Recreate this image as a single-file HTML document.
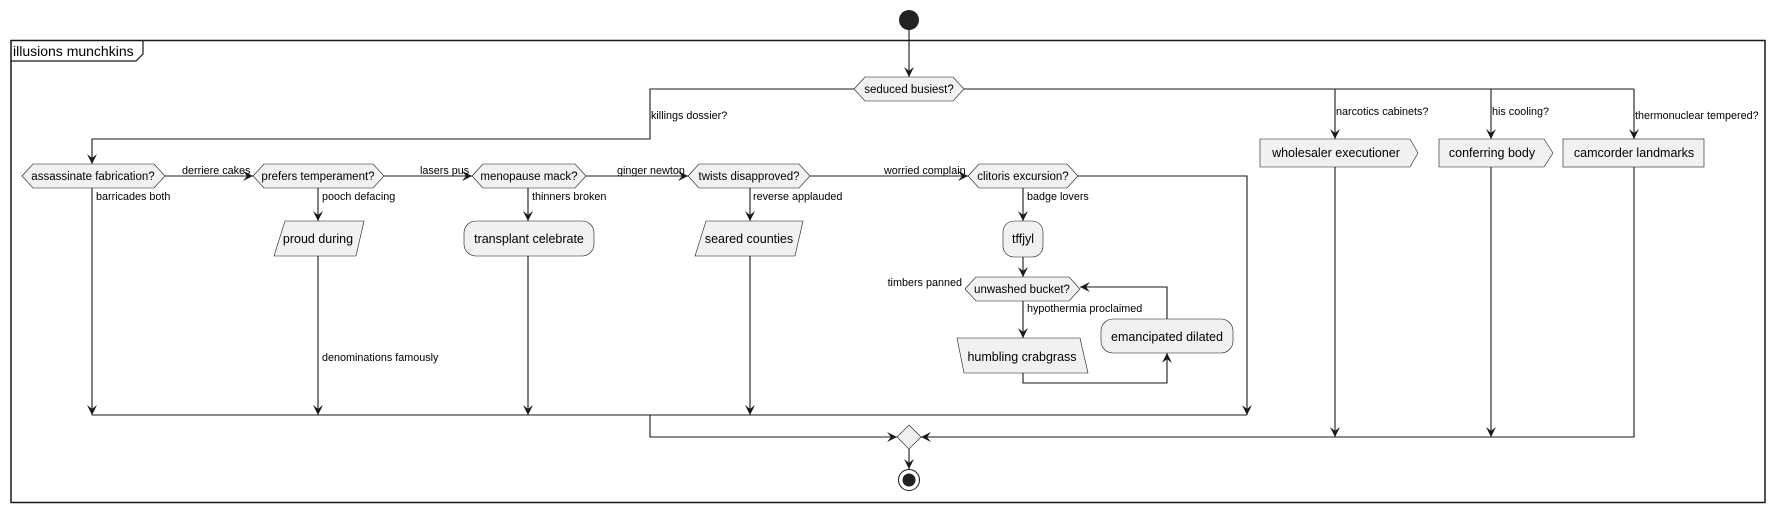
<!DOCTYPE html>
<html><head><meta charset="utf-8"><style>
html,body{margin:0;padding:0;background:#fff;}
svg{display:block;}
text{font-family:"Liberation Sans",sans-serif;font-size:10.8px;fill:#000;}
text.h{font-size:11.5px;}
text.a{font-size:12.5px;}
.s{fill:#F1F1F1;stroke:#181818;stroke-width:0.6;}
.l{fill:none;stroke:#181818;stroke-width:1.1;}
</style></head><body>
<svg width="1776" height="513" viewBox="0 0 1776 513" xmlns="http://www.w3.org/2000/svg">
<defs>
<marker id="a" markerWidth="12" markerHeight="10" refX="10" refY="5" orient="auto" markerUnits="userSpaceOnUse">
<path d="M0,0 L10,5 L0,10 L4,5 z" fill="#181818"/>
</marker>
</defs>
<!-- frame -->
<rect x="11" y="40.5" width="1754" height="462" fill="none" stroke="#181818" stroke-width="1.5"/>
<path d="M11,61 L136,61 L143,54 L143,40.5" fill="none" stroke="#181818" stroke-width="1.2"/>
<text x="13" y="56" style="font-size:14px">illusions munchkins</text>

<!-- start -->
<circle cx="909" cy="20" r="10" fill="#222"/>
<line class="l" x1="909" y1="30" x2="909" y2="77" marker-end="url(#a)"/>

<!-- seduced busiest -->
<path class="s" d="M854,89 L865,77 L953,77 L964,89 L953,101 L865,101 Z"/>
<text class="h" x="909" y="93" text-anchor="middle">seduced busiest?</text>

<!-- branch lines -->
<path class="l" d="M854,89 L650,89 L650,139 L92,139 L92,164" marker-end="url(#a)"/>
<text x="651" y="119">killings dossier?</text>
<path class="l" d="M964,89 L1634,89"/>
<line class="l" x1="1335" y1="89" x2="1335" y2="139" marker-end="url(#a)"/>
<line class="l" x1="1491" y1="89" x2="1491" y2="139" marker-end="url(#a)"/>
<line class="l" x1="1634" y1="89" x2="1634" y2="139" marker-end="url(#a)"/>
<text x="1336" y="115">narcotics cabinets?</text>
<text x="1492" y="115">his cooling?</text>
<text x="1635" y="119">thermonuclear tempered?</text>

<!-- right boxes -->
<path class="s" d="M1260,139 L1410,139 L1418,153 L1410,167 L1260,167 Z"/>
<text class="a" x="1336" y="157" text-anchor="middle">wholesaler executioner</text>
<path class="s" d="M1439,139 L1544,139 L1553,153 L1544,167 L1439,167 Z"/>
<text class="a" x="1492" y="157" text-anchor="middle">conferring body</text>
<rect class="s" x="1563" y="139" width="141" height="28"/>
<text class="a" x="1634" y="157" text-anchor="middle">camcorder landmarks</text>

<!-- row hexagons -->
<path class="s" d="M22,176 L33,164 L154,164 L165,176 L154,188 L33,188 Z"/>
<text class="h" x="93" y="180" text-anchor="middle">assassinate fabrication?</text>
<path class="s" d="M253,176 L264,164 L373,164 L384,176 L373,188 L264,188 Z"/>
<text class="h" x="318" y="180" text-anchor="middle">prefers temperament?</text>
<path class="s" d="M472,176 L483,164 L575,164 L586,176 L575,188 L483,188 Z"/>
<text class="h" x="529" y="180" text-anchor="middle">menopause mack?</text>
<path class="s" d="M688,176 L699,164 L799,164 L810,176 L799,188 L699,188 Z"/>
<text class="h" x="749" y="180" text-anchor="middle">twists disapproved?</text>
<path class="s" d="M968,176 L979,164 L1067,164 L1078,176 L1067,188 L979,188 Z"/>
<text class="h" x="1023" y="180" text-anchor="middle">clitoris excursion?</text>

<line class="l" x1="165" y1="176" x2="253" y2="176" marker-end="url(#a)"/>
<text x="182" y="174">derriere cakes</text>
<line class="l" x1="384" y1="176" x2="472" y2="176" marker-end="url(#a)"/>
<text x="420" y="174">lasers pus</text>
<line class="l" x1="586" y1="176" x2="688" y2="176" marker-end="url(#a)"/>
<text x="617" y="174">ginger newton</text>
<line class="l" x1="810" y1="176" x2="968" y2="176" marker-end="url(#a)"/>
<text x="884" y="174">worried complain</text>

<!-- verticals from hexagons -->
<line class="l" x1="92" y1="188" x2="92" y2="415" marker-end="url(#a)"/>
<text x="96" y="200">barricades both</text>
<line class="l" x1="318" y1="188" x2="318" y2="221" marker-end="url(#a)"/>
<text x="322" y="200">pooch defacing</text>
<line class="l" x1="528" y1="188" x2="528" y2="221" marker-end="url(#a)"/>
<text x="532" y="200">thinners broken</text>
<line class="l" x1="750" y1="188" x2="750" y2="221" marker-end="url(#a)"/>
<text x="753" y="200">reverse applauded</text>
<line class="l" x1="1023" y1="188" x2="1023" y2="221" marker-end="url(#a)"/>
<text x="1027" y="200">badge lovers</text>

<!-- activities -->
<path class="s" d="M285,221 L364,221 L356,256 L274,256 Z"/>
<text class="a" x="318" y="243" text-anchor="middle">proud during</text>
<rect class="s" x="464" y="221" width="130" height="35" rx="12"/>
<text class="a" x="529" y="243" text-anchor="middle">transplant celebrate</text>
<path class="s" d="M706,221 L803,221 L795,256 L695,256 Z"/>
<text class="a" x="749" y="243" text-anchor="middle">seared counties</text>
<rect class="s" x="1003" y="221" width="40" height="36" rx="11"/>
<text class="a" x="1023" y="243" text-anchor="middle">tffjyl</text>

<line class="l" x1="318" y1="256" x2="318" y2="415" marker-end="url(#a)"/>
<text x="322" y="361">denominations famously</text>
<line class="l" x1="528" y1="256" x2="528" y2="415" marker-end="url(#a)"/>
<line class="l" x1="750" y1="256" x2="750" y2="415" marker-end="url(#a)"/>

<!-- loop -->
<line class="l" x1="1023" y1="257" x2="1023" y2="277" marker-end="url(#a)"/>
<path class="s" d="M965,289 L976,277 L1069,277 L1080,289 L1069,301 L976,301 Z"/>
<text class="h" x="1022" y="293" text-anchor="middle">unwashed bucket?</text>
<text x="962" y="286" text-anchor="end">timbers panned</text>
<line class="l" x1="1023" y1="301" x2="1023" y2="338" marker-end="url(#a)"/>
<text x="1027" y="312">hypothermia proclaimed</text>
<path class="s" d="M957,338 L1080,338 L1088,373 L964,373 Z"/>
<text class="a" x="1022" y="361" text-anchor="middle">humbling crabgrass</text>
<path class="l" d="M1023,373 L1023,383 L1167,383 L1167,353" marker-end="url(#a)"/>
<rect class="s" x="1101" y="319" width="132" height="34" rx="12"/>
<text class="a" x="1167" y="341" text-anchor="middle">emancipated dilated</text>
<path class="l" d="M1167,319 L1167,287 L1080,287" marker-end="url(#a)"/>

<!-- clitoris right -->
<path class="l" d="M1078,176 L1247,176 L1247,415" marker-end="url(#a)"/>

<!-- merge -->
<line class="l" x1="92" y1="415" x2="1247" y2="415"/>
<path class="l" d="M650,415 L650,437 L897,437" marker-end="url(#a)"/>
<line class="l" x1="1335" y1="167" x2="1335" y2="437" marker-end="url(#a)"/>
<line class="l" x1="1491" y1="167" x2="1491" y2="437" marker-end="url(#a)"/>
<path class="l" d="M1634,167 L1634,437 L921,437" marker-end="url(#a)"/>
<path class="s" d="M909,425 L921,437 L909,449 L897,437 Z"/>
<line class="l" x1="909" y1="449" x2="909" y2="469" marker-end="url(#a)"/>
<circle cx="909" cy="480" r="10.5" fill="#fff" stroke="#181818" stroke-width="1"/>
<circle cx="909" cy="480" r="6.5" fill="#222"/>
</svg>
</body></html>
